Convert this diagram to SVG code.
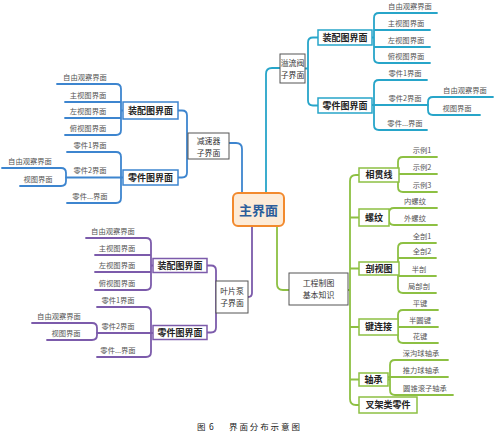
<svg xmlns="http://www.w3.org/2000/svg" width="495" height="442" viewBox="0 0 495 442">
<style>
text{font-family:"Noto Sans CJK SC","Liberation Sans",sans-serif;}
.leaf{font-size:7.3px;fill:#555;text-anchor:middle;}
.sub{font-size:9px;font-weight:bold;fill:#222;text-anchor:middle;}
.node{font-size:7.9px;fill:#333;text-anchor:middle;}
.c{fill:none;stroke-width:1.8;stroke-linecap:round;stroke-linejoin:round;}
.bl{stroke:#3d85cf;}
.cy{stroke:#27a5c9;}
.pu{stroke:#7c5bab;}
.gr{stroke:#8dc043;}
.bx{fill:#fff;stroke-width:1.5;}
.nb{fill:#fff;stroke:#555;stroke-width:1;}
</style>
<rect width="495" height="442" fill="#fff"/>
<g id="connectors">
<!-- blue -->
<path class="c bl" d="M242,193 V149 Q242,143 236,143 H229"/>
<path class="c bl" d="M178,110.5 H182 Q187,110.5 187,115.5 V172.5 Q187,177.5 182,177.5 H178"/>
<path class="c bl" d="M57,84 H116 Q121,84 121,89 V130 Q121,135 116,135 H65 M65,102 H121 M65,118 H121 M121,110.5 H123"/>
<path class="c bl" d="M67,152 H116 Q121,152 121,157 V198 Q121,203 116,203 H67 M66,177.5 H123"/>
<path class="c bl" d="M2,168 H61 Q66,168 66,173 V181 Q66,186 61,186 H20"/>
<!-- cyan -->
<path class="c cy" d="M266,193 V74 Q266,68 272,68 H280"/>
<path class="c cy" d="M305,68.5 H308 M318,37.5 H313 Q308,37.5 308,42.5 V100.5 Q308,105.5 313,105.5 H318"/>
<path class="c cy" d="M437,13 H379 Q374,13 374,18 V58 Q374,63 379,63 H430 M374,30 H430 M374,47 H430 M372,37.5 H374"/>
<path class="c cy" d="M427,80 H379 Q374,80 374,85 V125 Q374,130 379,130 H427 M372,105 H428"/>
<path class="c cy" d="M493,97 H433 Q428,97 428,102 V110 Q428,115 433,115 H480"/>
<!-- purple -->
<path class="c pu" d="M252,227 V293 Q252,297 248,297"/>
<path class="c pu" d="M207,265.5 H211 Q216,265.5 216,270.5 V327.5 Q216,332.5 211,332.5 H207"/>
<path class="c pu" d="M86,238 H146 Q151,238 151,243 V285 Q151,290 146,290 H95 M95,255 H151 M95,272 H151 M151,265.5 H153"/>
<path class="c pu" d="M97,307 H146 Q151,307 151,312 V352 Q151,357 146,357 H97 M97,333 H153"/>
<path class="c pu" d="M32,323 H92 Q97,323 97,328 V335 Q97,340 92,340 H47"/>
<!-- green -->
<path class="c gr" d="M277,227 V284 Q277,290 283,290 H289"/>
<path class="c gr" d="M348,290 H350 M359,175 H356 Q350,175 350,181 V399 Q350,405 356,405 H359 M350,217.5 H359 M350,268.5 H359 M350,327 H359 M350,379.5 H359"/>
<path class="c gr" d="M437,157 H403 Q398,157 398,162 V187 Q398,192 403,192 H437 M398,174 H437"/>
<path class="c gr" d="M437,208 H394 Q389,208 389,213 V220 Q389,225 394,225 H437"/>
<path class="c gr" d="M436,243 H403 Q398,243 398,248 V288 Q398,293 403,293 H436 M398,258 H436 M398,276 H436"/>
<path class="c gr" d="M438,310 H403 Q398,310 398,315 V338 Q398,343 403,343 H438 M398,327 H438"/>
<path class="c gr" d="M448,360 H395 Q390,360 390,365 V390 Q390,395 395,395 H453 M388,377 H448 M388,379.5 H390"/>
</g>

<g id="main">
<rect x="233" y="193" width="51" height="33" rx="5" fill="#fdebd7" stroke="#f28a2e" stroke-width="2"/>
<text x="258.5" y="214.5" font-size="13" font-weight="bold" fill="#2b5d9b" text-anchor="middle">主界面</text>
</g>

<!-- blue branch -->
<g id="jiansuqi"><rect class="nb" x="188" y="133" width="41" height="26"/><text class="node" x="208.5" y="144.3">减速器</text><text class="node" x="208.5" y="156">子界面</text></g>
<g id="jsq-zp"><rect class="bx bl" x="123" y="102" width="55" height="17"/><text class="sub" x="150.5" y="113.8">装配图界面</text></g>
<g id="jsq-lj"><rect class="bx bl" x="123" y="170" width="55" height="15"/><text class="sub" x="150.5" y="180.8">零件图界面</text></g>
<g id="jsq-leaves">
<text class="leaf" x="85" y="80">自由观察界面</text>
<text class="leaf" x="88" y="98">主视图界面</text>
<text class="leaf" x="88" y="114">左视图界面</text>
<text class="leaf" x="88" y="131">俯视图界面</text>
<text class="leaf" x="90" y="148">零件1界面</text>
<text class="leaf" x="90" y="173">零件2界面</text>
<text class="leaf" x="90" y="199">零件...界面</text>
<text class="leaf" x="30" y="164">自由观察界面</text>
<text class="leaf" x="38" y="182">视图界面</text>
</g>

<!-- cyan branch -->
<g id="yiliufa"><rect class="nb" x="280" y="54" width="25" height="29"/><text class="node" x="292.5" y="66.3" font-size="7.6px">溢流阀</text><text class="node" x="292.5" y="78">子界面</text></g>
<g id="ylf-zp"><rect class="bx cy" x="318" y="30" width="54" height="15"/><text class="sub" x="345" y="40.8">装配图界面</text></g>
<g id="ylf-lj"><rect class="bx cy" x="318" y="98" width="54" height="15"/><text class="sub" x="345" y="108.8">零件图界面</text></g>
<g id="ylf-leaves">
<text class="leaf" x="410" y="9">自由观察界面</text>
<text class="leaf" x="406" y="26">主视图界面</text>
<text class="leaf" x="406" y="43">左视图界面</text>
<text class="leaf" x="406" y="59">俯视图界面</text>
<text class="leaf" x="405" y="76">零件1界面</text>
<text class="leaf" x="405" y="101">零件2界面</text>
<text class="leaf" x="405" y="126">零件...界面</text>
<text class="leaf" x="465" y="93">自由观察界面</text>
<text class="leaf" x="457" y="111">视图界面</text>
</g>

<!-- purple branch -->
<g id="yepianbeng"><rect class="nb" x="216" y="281" width="32" height="32"/><text class="node" x="232" y="294">叶片泵</text><text class="node" x="232" y="305.7">子界面</text></g>
<g id="ypb-zp"><rect class="bx pu" x="153" y="258.5" width="54" height="14"/><text class="sub" x="180" y="268.8">装配图界面</text></g>
<g id="ypb-lj"><rect class="bx pu" x="153" y="325.5" width="54" height="14"/><text class="sub" x="180" y="335.8">零件图界面</text></g>
<g id="ypb-leaves">
<text class="leaf" x="113" y="234">自由观察界面</text>
<text class="leaf" x="117" y="251">主视图界面</text>
<text class="leaf" x="117" y="268">左视图界面</text>
<text class="leaf" x="117" y="286">俯视图界面</text>
<text class="leaf" x="118" y="303">零件1界面</text>
<text class="leaf" x="118" y="329">零件2界面</text>
<text class="leaf" x="118" y="353">零件...界面</text>
<text class="leaf" x="59" y="319">自由观察界面</text>
<text class="leaf" x="66" y="336">视图界面</text>
</g>

<!-- green branch -->
<g id="gczt"><rect class="nb" x="289" y="273" width="59" height="32"/><text class="node" x="318.5" y="286">工程制图</text><text class="node" x="318.5" y="297.7">基本知识</text></g>
<g id="xgx"><rect class="bx gr" x="359" y="168" width="40" height="14"/><text class="sub" x="379" y="178.3">相贯线</text></g>
<g id="lw"><rect class="bx gr" x="359" y="209" width="30" height="17"/><text class="sub" x="374" y="220.8">螺纹</text></g>
<g id="psj"><rect class="bx gr" x="359" y="262" width="40" height="13"/><text class="sub" x="379" y="271.8">剖视图</text></g>
<g id="jlj"><rect class="bx gr" x="359" y="319" width="39" height="16"/><text class="sub" x="378.5" y="330.3">键连接</text></g>
<g id="zc"><rect class="bx gr" x="359" y="373" width="29" height="13"/><text class="sub" x="373.5" y="382.8">轴承</text></g>
<g id="cjl"><rect class="bx gr" x="359" y="397" width="58" height="16"/><text class="sub" x="388" y="408.3">叉架类零件</text></g>
<g id="green-leaves">
<text class="leaf" x="422" y="153">示例1</text>
<text class="leaf" x="422" y="170">示例2</text>
<text class="leaf" x="422" y="188">示例3</text>
<text class="leaf" x="415" y="204">内螺纹</text>
<text class="leaf" x="415" y="221">外螺纹</text>
<text class="leaf" x="422" y="239">全剖1</text>
<text class="leaf" x="422" y="254">全剖2</text>
<text class="leaf" x="419" y="272">半剖</text>
<text class="leaf" x="419" y="289">局部剖</text>
<text class="leaf" x="420" y="306">平键</text>
<text class="leaf" x="420" y="323">半圆键</text>
<text class="leaf" x="420" y="339">花键</text>
<text class="leaf" x="421" y="356">深沟球轴承</text>
<text class="leaf" x="421" y="373">推力球轴承</text>
<text class="leaf" x="425" y="391">圆锥滚子轴承</text>
</g>

<g id="caption">
<text x="197" y="429.5" font-size="8.5" fill="#222">图<tspan x="209">6</tspan></text>
<text x="229" y="429.5" font-size="8.5" fill="#222" letter-spacing="1.9">界面分布示意图</text>
</g>
</svg>
